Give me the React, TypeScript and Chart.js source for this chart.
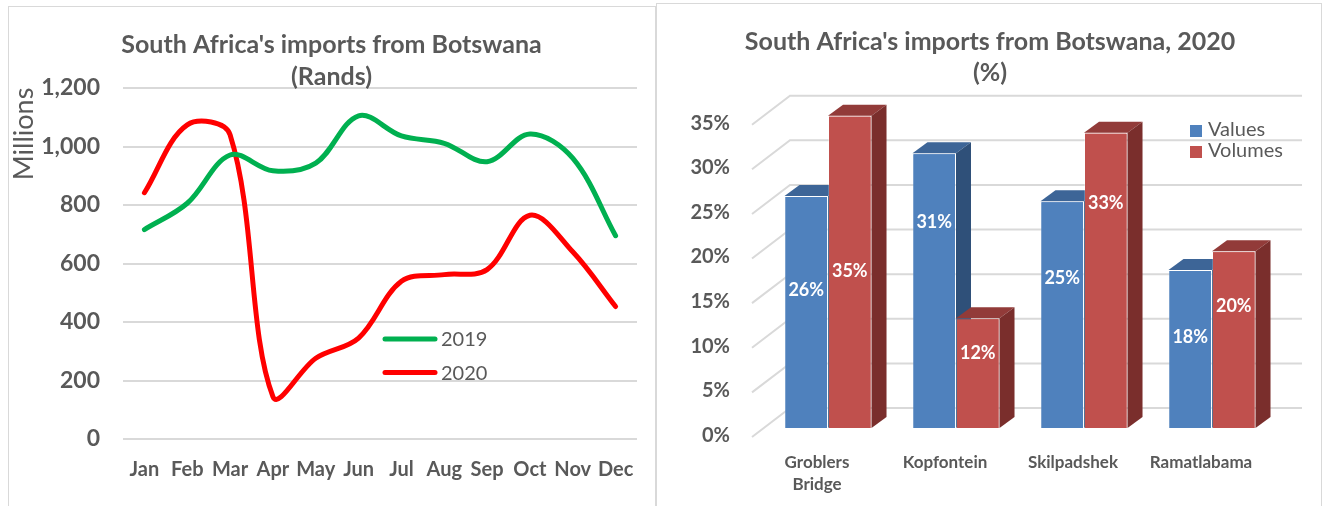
import React, { useEffect, useRef } from "react";
import { Chart, registerables } from "chart.js";

Chart.register(...registerables);

// ---------- data: left chart ----------
const months = ["Jan", "Feb", "Mar", "Apr", "May", "Jun", "Jul", "Aug", "Sep", "Oct", "Nov", "Dec"];
const imports2019 = [716, 806, 971, 917, 943, 1105, 1036, 1011, 948, 1043, 960, 695];
const imports2020 = [842, 1074, 1040, 145, 276, 345, 539, 562, 579, 765, 640, 453];
const randsTitle = ["South Africa's imports from Botswana", "(Rands)"];
const randsUnit = "Millions";
const seriesNames = ["2019", "2020"];

// ---------- data: right chart ----------
const posts = [["Groblers", "Bridge"], "Kopfontein", "Skilpadshek", "Ramatlabama"];
const valuesShare = [26.0, 30.8, 25.4, 17.7];
const volumesShare = [35.0, 12.3, 33.1, 19.8];
const shareNames = ["Values", "Volumes"];
const shareTitle = ["South Africa's imports from Botswana, 2020", "(%)"];

const FONT = 'Lato, "Open Sans", sans-serif';
const GREY = "#595959";
const GRID = "#d9d9d9";

function LeftChart() {
  const ref = useRef<HTMLCanvasElement>(null);
  useEffect(() => {
    const canvas = ref.current!;
    const decor = {
      id: "leftDecor",
      afterDraw(chart: any) {
        const ctx = chart.ctx;
        ctx.save();
        ctx.fillStyle = GREY;
        ctx.textAlign = "center";
        ctx.textBaseline = "middle";
        ctx.font = `bold 25px ${FONT}`;
        ctx.fillText(randsTitle[0], 322.5, 38);
        ctx.fillText(randsTitle[1], 322.5, 70);
        // unit label
        ctx.save();
        ctx.translate(15, 127);
        ctx.rotate(-Math.PI / 2);
        ctx.font = `27px ${FONT}`;
        ctx.fillText(randsUnit, 0, 0);
        ctx.restore();
        // legend
        const colors = ["#00b050", "#ff0000"];
        const ys = [332, 365.5];
        ctx.lineCap = "round";
        ctx.lineWidth = 5;
        ctx.textAlign = "left";
        ctx.font = `20px ${FONT}`;
        for (let i = 0; i < 2; i++) {
          ctx.strokeStyle = colors[i];
          ctx.beginPath();
          ctx.moveTo(376, ys[i]);
          ctx.lineTo(426, ys[i]);
          ctx.stroke();
          ctx.fillStyle = GREY;
          ctx.fillText(seriesNames[i], 432, ys[i] + 1);
        }
        ctx.restore();
      },
    };
    const chart = new Chart(canvas, {
      type: "line",
      data: {
        labels: months,
        datasets: [
          {
            label: seriesNames[0],
            data: imports2019,
            borderColor: "#00b050",
            borderWidth: 5,
            pointRadius: 0,
            tension: 0.35,
            borderCapStyle: "round",
            borderJoinStyle: "round",
          },
          {
            label: seriesNames[1],
            data: imports2020,
            borderColor: "#ff0000",
            borderWidth: 5,
            pointRadius: 0,
            tension: 0.35,
            borderCapStyle: "round",
            borderJoinStyle: "round",
          },
        ],
      },
      options: {
        animation: false,
        responsive: false,
        layout: { padding: { top: 81, right: 18, left: 0, bottom: 6 } },
        plugins: { legend: { display: false }, title: { display: false }, tooltip: { enabled: false } },
        scales: {
          x: {
            offset: true,
            grid: { display: false },
            border: { display: false },
            ticks: {
              color: GREY,
              font: { family: FONT, size: 20, weight: "bold" },
              padding: 11,
              maxRotation: 0,
              autoSkip: false,
            },
            afterFit: (s: any) => {
              s.height = 60;
            },
          },
          y: {
            min: 0,
            max: 1200,
            grid: { color: GRID, lineWidth: 2, drawTicks: false },
            border: { display: false },
            ticks: {
              stepSize: 200,
              color: GREY,
              font: { family: FONT, size: 23, weight: "bold" },
              padding: 23,
              callback: (v: any) => Number(v).toLocaleString("en-US"),
            },
            afterFit: (s: any) => {
              s.width = 114;
            },
          },
        },
      } as any,
      plugins: [decor],
    });
    return () => chart.destroy();
  }, []);
  return <canvas ref={ref} width={646} height={498} style={{ display: "block" }} />;
}

function RightChart() {
  const ref = useRef<HTMLCanvasElement>(null);
  useEffect(() => {
    const canvas = ref.current!;
    const depth = { dx: 15, dy: -11 };
    const wall = { fx: -12, fy: 9, bx: 26, by: -20 };
    const faceColors = [
      { top: "#3d6597", side: "#2f5079" },
      { top: "#923b39", side: "#7a2e2c" },
    ];
    const labelFrac = [
      [0.595, 0.75, 0.66, 0.576],
      [0.503, 0.68, 0.76, 0.69],
    ];
    const bar3d = {
      id: "bar3d",
      beforeDatasetsDraw(chart: any) {
        const { ctx, chartArea, scales } = chart;
        const ys = scales.y;
        ctx.save();
        ctx.strokeStyle = GRID;
        ctx.lineWidth = 2;
        for (const t of ys.ticks) {
          const y = ys.getPixelForValue(t.value);
          ctx.beginPath();
          ctx.moveTo(chartArea.left + wall.fx, y + wall.fy);
          ctx.lineTo(chartArea.left + wall.bx, y + wall.by);
          ctx.lineTo(chartArea.right + wall.bx, y + wall.by);
          ctx.stroke();
        }
        ctx.restore();
      },
      afterDatasetsDraw(chart: any) {
        const ctx = chart.ctx;
        const ys = chart.scales.y;
        // repaint bars dataset by dataset so the later series sits in front
        chart.data.datasets.forEach((_ds: any, di: number) => {
          const meta = chart.getDatasetMeta(di);
          const c = faceColors[di];
          ctx.save();
          for (const el of meta.data) {
            el.draw(ctx, chart.chartArea);
            const x0 = el.x - el.width / 2;
            const x1 = el.x + el.width / 2;
            const yt = el.y;
            const yb = el.base;
            ctx.fillStyle = c.top;
            ctx.beginPath();
            ctx.moveTo(x0, yt);
            ctx.lineTo(x1, yt);
            ctx.lineTo(x1 + depth.dx, yt + depth.dy);
            ctx.lineTo(x0 + depth.dx, yt + depth.dy);
            ctx.closePath();
            ctx.fill();
            ctx.fillStyle = c.side;
            ctx.beginPath();
            ctx.moveTo(x1, yt);
            ctx.lineTo(x1 + depth.dx, yt + depth.dy);
            ctx.lineTo(x1 + depth.dx, yb + depth.dy);
            ctx.lineTo(x1, yb);
            ctx.closePath();
            ctx.fill();
          }
          ctx.restore();
        });
        // data labels
        ctx.save();
        ctx.fillStyle = "#ffffff";
        ctx.textAlign = "center";
        ctx.textBaseline = "middle";
        ctx.font = `bold 18px ${FONT}`;
        chart.data.datasets.forEach((ds: any, di: number) => {
          const meta = chart.getDatasetMeta(di);
          meta.data.forEach((el: any, i: number) => {
            const v = ds.data[i];
            const y = ys.getPixelForValue(v * labelFrac[di][i]);
            ctx.fillText(Math.round(v) + "%", el.x, y);
          });
        });
        ctx.restore();
      },
      afterDraw(chart: any) {
        const ctx = chart.ctx;
        ctx.save();
        ctx.fillStyle = GREY;
        ctx.textAlign = "center";
        ctx.textBaseline = "middle";
        ctx.font = `bold 25px ${FONT}`;
        ctx.fillText(shareTitle[0], 333, 38);
        ctx.fillText(shareTitle[1], 333, 69);
        const cols = ["#4f81bd", "#c0504d"];
        const ly = [126, 147];
        ctx.textAlign = "left";
        ctx.font = `20px ${FONT}`;
        for (let i = 0; i < 2; i++) {
          ctx.fillStyle = cols[i];
          ctx.fillRect(533, ly[i] - 5, 12, 12);
          ctx.fillStyle = GREY;
          ctx.fillText(shareNames[i], 551, ly[i]);
        }
        ctx.restore();
      },
    };
    const chart = new Chart(canvas, {
      type: "bar",
      data: {
        labels: posts,
        datasets: [
          {
            label: shareNames[0],
            data: valuesShare,
            backgroundColor: "#4f81bd",
            borderColor: "rgba(255,255,255,0.2)",
            borderWidth: 1,
            categoryPercentage: 0.68,
            barPercentage: 1.0,
          },
          {
            label: shareNames[1],
            data: volumesShare,
            backgroundColor: "#c0504d",
            borderColor: "rgba(255,255,255,0.2)",
            borderWidth: 1,
            categoryPercentage: 0.68,
            barPercentage: 1.0,
          },
        ],
      },
      options: {
        animation: false,
        responsive: false,
        layout: { padding: { top: 111.7, right: 45, left: 0, bottom: 8 } },
        plugins: { legend: { display: false }, title: { display: false }, tooltip: { enabled: false } },
        scales: {
          x: {
            grid: { display: false },
            border: { display: false },
            ticks: {
              color: GREY,
              font: { family: FONT, size: 17, weight: "bold", lineHeight: 1.3 },
              padding: 15,
              labelOffset: -11,
              maxRotation: 0,
              autoSkip: false,
            },
            afterFit: (s: any) => {
              s.height = 70;
            },
          },
          y: {
            min: 0,
            max: 35,
            grid: { display: false, drawTicks: false },
            border: { display: false },
            ticks: {
              stepSize: 5,
              color: GREY,
              font: { family: FONT, size: 20, weight: "bold" },
              padding: 34,
              labelOffset: 7.5,
              callback: (v: any) => v + "%",
            },
            afterFit: (s: any) => {
              s.width = 107;
            },
          },
        },
      } as any,
      plugins: [bar3d],
    });
    return () => chart.destroy();
  }, []);
  return <canvas ref={ref} width={664} height={502} style={{ display: "block" }} />;
}

export default function App() {
  return (
    <div
      style={{
        position: "fixed",
        left: 0,
        top: 0,
        width: 1323,
        height: 506,
        overflow: "hidden",
        background: "#ffffff",
      }}
    >
      <div
        style={{
          position: "absolute",
          left: 8,
          top: 6,
          width: 648,
          height: 520,
          border: `1px solid ${GRID}`,
          boxSizing: "border-box",
        }}
      >
        <LeftChart />
      </div>
      <div
        style={{
          position: "absolute",
          left: 656,
          top: 3,
          width: 666,
          height: 520,
          border: `1px solid ${GRID}`,
          boxSizing: "border-box",
        }}
      >
        <RightChart />
      </div>
    </div>
  );
}
